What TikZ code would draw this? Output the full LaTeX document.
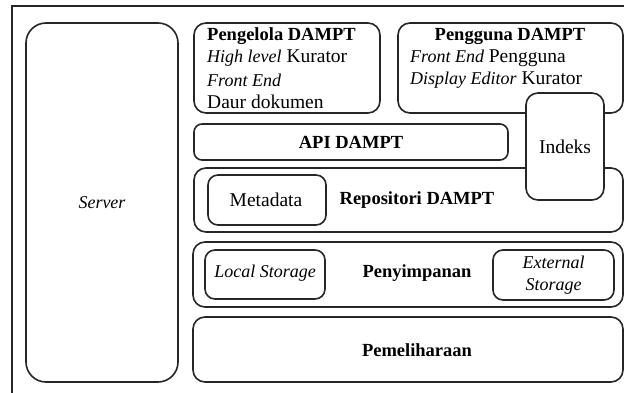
\documentclass[tikz,border=0pt]{standalone}
\usepackage{fontspec}
\setmainfont{Liberation Serif}
\begin{document}
\begin{tikzpicture}[x=1pt,y=-1pt,
  box/.style={draw=black!85,line width=1.6pt,rounded corners=12pt,inner sep=0pt},
  ibox/.style={draw=black!85,line width=1.6pt,rounded corners=10pt,inner sep=0pt},
  txt/.style={inner sep=0pt,font=\fontsize{19.5}{22.5}\selectfont},
  itxt/.style={inner sep=0pt,font=\fontsize{18}{22.5}\selectfont\itshape},
  btxt/.style={inner sep=0pt,font=\fontsize{18.5}{22.5}\selectfont\bfseries}]
\useasboundingbox (0,0) rectangle (624,393);
\clip (0,0) rectangle (624,393);
\fill[white] (0,0) rectangle (624,393);
\draw[black!85,line width=1.6pt] (12,6) rectangle (640,410);
% boxes
\node[box,rounded corners=20pt,minimum width=152pt,minimum height=359pt] (server) at (102,202.5) {};
\node[box,minimum width=186pt,minimum height=90pt] (pengelola) at (287,68) {};
\node[box,minimum width=225pt,minimum height=90pt] (pengguna) at (510.5,68) {};
\node[box,rounded corners=8pt,minimum width=314pt,minimum height=36pt] (api) at (351,142) {};
\node[box,minimum width=429pt,minimum height=64pt] (repo) at (408.5,200) {};
\node[ibox,minimum width=118pt,minimum height=50pt] (meta) at (267,200) {};
\node[box,fill=white,minimum width=78pt,minimum height=107pt] (indeks) at (565,146.5) {};
\node[box,minimum width=430pt,minimum height=65pt] (simpan) at (408,274.5) {};
\node[ibox,minimum width=120pt,minimum height=49pt] (local) at (265,274.5) {};
\node[ibox,minimum width=121pt,minimum height=50pt] (ext) at (553.5,275) {};
\node[box,minimum width=430pt,minimum height=65pt] (pelihara) at (408,349.5) {};
% texts
\node[itxt] (tserver) at (102,203) {Server};
\node[btxt,anchor=west] (t1) at (207,36) {Pengelola DAMPT};
\node[txt,anchor=west] (t2) at (207,58) {{\fontsize{18}{22.5}\selectfont\itshape High level} Kurator};
\node[itxt,anchor=west] (t3) at (207,80) {Front End};
\node[txt,anchor=west] (t4) at (207,102) {Daur dokumen};
\node[btxt] (t5) at (510,36) {Pengguna DAMPT};
\node[txt,anchor=west] (t6) at (410,58) {{\fontsize{18}{22.5}\selectfont\itshape Front End} Pengguna};
\node[txt,anchor=west] (t7) at (410,80) {{\fontsize{18}{22.5}\selectfont\itshape Display Editor} Kurator};
\node[btxt] (tapi) at (351,142) {API DAMPT};
\node[txt] (tind) at (565,147) {Indeks};
\node[txt] (tmeta) at (266,200) {Metadata};
\node[btxt] (trepo) at (417,200) {Repositori DAMPT};
\node[itxt] (tlocal) at (265,273) {Local Storage};
\node[btxt] (tsimpan) at (417,273) {Penyimpanan};
\node[itxt,align=center] (text) at (553.5,275) {External\\Storage};
\node[btxt] (tpel) at (417,350) {Pemeliharaan};
\end{tikzpicture}
\end{document}
